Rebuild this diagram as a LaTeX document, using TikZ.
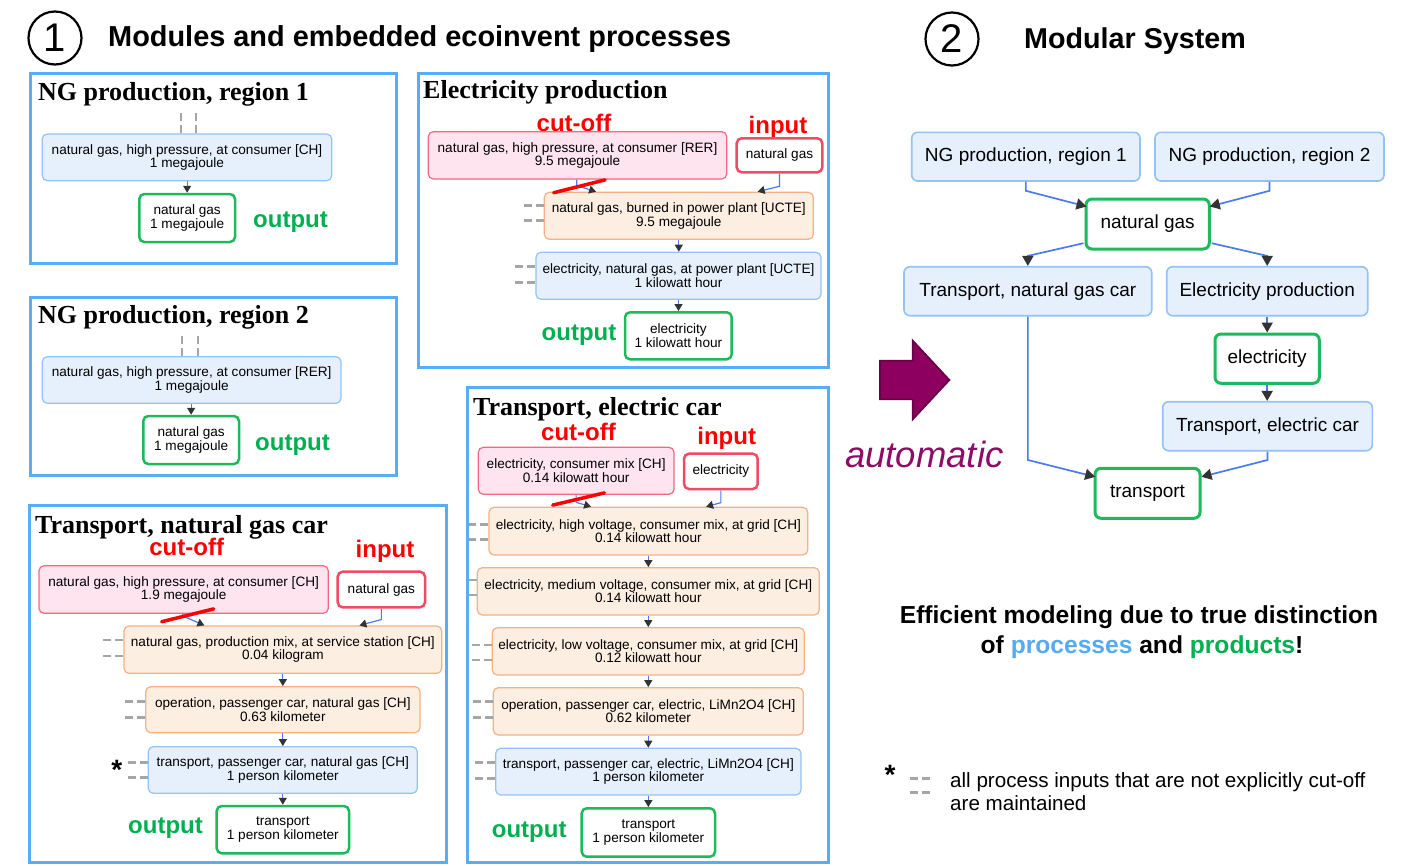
\documentclass[tikz,border=0pt]{standalone}
\usepackage{fontspec}
\setmainfont{Liberation Sans}
\newfontfamily\serifbold{Liberation Serif}
\usetikzlibrary{arrows.meta,calc}
\definecolor{modblue}{HTML}{58ADF6}
\definecolor{procfill}{HTML}{E6F0FC}
\definecolor{procdraw}{HTML}{92C3F2}
\definecolor{orfill}{HTML}{FDEEE2}
\definecolor{ordraw}{HTML}{F4B183}
\definecolor{pinkfill}{HTML}{FDE4EE}
\definecolor{pinkdraw}{HTML}{F2697F}
\definecolor{inred}{HTML}{EF4B64}
\definecolor{outgreen}{HTML}{1DB95A}
\definecolor{txtgreen}{HTML}{00B050}
\definecolor{connblue}{HTML}{4A7BF0}
\definecolor{tipdark}{HTML}{333333}
\definecolor{stubgray}{HTML}{A6A6A6}
\definecolor{purplefill}{HTML}{8E0060}
\definecolor{purpledraw}{HTML}{6A0046}
\definecolor{purpletxt}{HTML}{8E0B66}
\definecolor{procblue}{HTML}{55AAF2}
\newcommand{\pfont}{\fontsize{13.6}{13.4}\selectfont}
\newcommand{\mtitlefont}{\serifbold\bfseries\fontsize{26}{26}\selectfont}
\newcommand{\mybox}[7]{\node[#1, minimum width={(#5-#3)*1pt}, minimum height={(#6-#4)*1pt}] (#2) at ({(#3+#5)/2},{(#4+#6)/2}) {#7};}
\newcommand{\mystubs}[4]{\draw[stub] (#1.west |- 0,#2) -- ++(-#4,0); \draw[stub] (#1.west |- 0,#3) -- ++(-#4,0);}
\tikzset{
  frame/.style={draw=modblue, line width=3pt},
  pbase/.style={rounded corners=5pt, line width=1.2pt, align=center, font=\pfont, inner sep=0pt},
  pblue/.style={pbase, draw=procdraw, fill=procfill},
  porange/.style={pbase, draw=ordraw, fill=orfill},
  pcut/.style={pbase, draw=pinkdraw, fill=pinkfill},
  pin/.style={pbase, draw=inred, fill=white, line width=2.5pt},
  pout/.style={pbase, draw=outgreen, fill=white, line width=2.5pt},
  bigblue/.style={rounded corners=6pt, line width=1.6pt, draw=procdraw, fill=procfill, font=\fontsize{19}{19}\selectfont, inner sep=0pt},
  biggreen/.style={rounded corners=6pt, line width=3pt, draw=outgreen, fill=white, font=\fontsize{19}{19}\selectfont, inner sep=0pt},
  conn/.style={draw=connblue, line width=1.2pt, -{Triangle[length=7pt,width=8pt,color=tipdark]}},
  bigconn/.style={draw=connblue, line width=1.7pt, -{Triangle[length=10pt,width=11pt,color=tipdark]}},
  stub/.style={draw=stubgray, line width=2.8pt, dash pattern=on 8pt off 4pt},
  cutmark/.style={draw=red, line width=3.5pt, line cap=round},
  lblred/.style={text=red, font=\bfseries\fontsize{24}{24}\selectfont, inner sep=0pt, anchor=base},
  lblgreen/.style={text=txtgreen, font=\bfseries\fontsize{24}{24}\selectfont, inner sep=0pt, anchor=base},
  mtitle/.style={font=\mtitlefont, inner sep=0pt, anchor=base west},
  star/.style={font=\bfseries\fontsize{28}{28}\selectfont, inner sep=0pt, anchor=base},
}
\begin{document}
\begin{tikzpicture}[x=1pt,y=-1pt]
\useasboundingbox (0,0) rectangle (1408,865);
\fill[white] (0,0) rectangle (1408,865);

% ---------- headers ----------
\node[circle, draw, line width=2.2pt, minimum size=53pt, inner sep=0pt, font=\fontsize{40}{40}\selectfont] (c1) at (55,38) {1};
\node[font=\bfseries\fontsize{28.9}{28.9}\selectfont, inner sep=0pt, anchor=base west] (h1) at (108,46) {Modules and embedded ecoinvent processes};
\node[circle, draw, line width=2.2pt, minimum size=53pt, inner sep=0pt, font=\fontsize{40}{40}\selectfont] (c2) at (952,39) {2};
\node[font=\bfseries\fontsize{28.7}{28.7}\selectfont, inner sep=0pt, anchor=base west] (h2) at (1024,48) {Modular System};

% ---------- module: NG production, region 1 ----------
\draw[frame] (30,73) rectangle (396,263);
\node[mtitle] (t1) at (38,100) {NG production, region 1};
\mybox{pblue}{m1p}{42.3}{134}{331.7}{180.7}{natural gas, high pressure, at consumer [CH]\\1 megajoule}
\mybox{pout}{m1o}{139.3}{194}{235}{242}{natural gas\\1 megajoule}
\draw[conn] (m1p.south -| m1o.north) -- (m1o.north);
\draw[stub] (m1p.north -| 181,0) -- ++(0,-20);
\draw[stub] (m1p.north -| 196,0) -- ++(0,-20);
\node[lblgreen] (o1) at (290.5,227.3) {output};

% ---------- module: NG production, region 2 ----------
\draw[frame] (30,297) rectangle (396,475);
\node[mtitle] (t2) at (38,323) {NG production, region 2};
\mybox{pblue}{m2p}{42.3}{356.7}{341}{403.3}{natural gas, high pressure, at consumer [RER]\\1 megajoule}
\mybox{pout}{m2o}{143.3}{416}{239}{464}{natural gas\\1 megajoule}
\draw[conn] (m2p.south -| m2o.north) -- (m2o.north);
\draw[stub] (m2p.north -| 182,0) -- ++(0,-20);
\draw[stub] (m2p.north -| 198,0) -- ++(0,-20);
\node[lblgreen] (o2) at (292.5,450.7) {output};

% ---------- module: Electricity production ----------
\draw[frame] (418,73) rectangle (828,367);
\node[mtitle] (t3) at (423,98) {Electricity production};
\node[lblred] (cu3) at (574,131) {cut-off};
\node[lblred] (in3) at (778,133.3) {input};
\mybox{pcut}{ecut}{428.3}{131.7}{726.7}{179}{natural gas, high pressure, at consumer [RER]\\9.5 megajoule}
\mybox{pin}{ein}{736.7}{138.3}{822.3}{172.3}{natural gas}
\mybox{porange}{eburn}{544.3}{192.3}{813.3}{239.3}{natural gas, burned in power plant [UCTE]\\9.5 megajoule}
\mybox{pblue}{eel}{536}{252.3}{821}{299.3}{electricity, natural gas, at power plant [UCTE]\\1 kilowatt hour}
\mybox{pout}{eout}{625}{312.3}{731.7}{359.3}{electricity\\1 kilowatt hour}
\draw[conn] ($(ecut.south west)+(149,0)$) -- ++(0,6) -- ($(eburn.north west)+(52.4,0)$);
\draw[conn] (ein.south) -- ++(0,12.7) -- ($(eburn.north west)+(214,0)$);
\draw[cutmark] ($(eburn.north west)+(10,1)$) -- ($(ecut.south west)+(177.4,0.3)$);
\draw[conn] (eburn.south) -- (eburn.south |- eel.north);
\draw[conn] (eel.south) -- (eel.south |- eout.north);
\mystubs{eburn}{205.7}{220.7}{20}
\mystubs{eel}{266.7}{282.3}{20}
\node[lblgreen] (o3) at (579,340.7) {output};

% ---------- module: Transport, natural gas car ----------
\draw[frame] (29,505) rectangle (446,862);
\node[mtitle] (t4) at (35,533) {Transport, natural gas car};
\node[lblred] (cu4) at (186.7,555) {cut-off};
\node[lblred] (in4) at (385,557.3) {input};
\mybox{pcut}{tcut}{39}{565.7}{328.3}{613.3}{natural gas, high pressure, at consumer [CH]\\1.9 megajoule}
\mybox{pin}{tin}{337.7}{571.7}{425}{607.3}{natural gas}
\mybox{porange}{tserv}{124}{626}{441.7}{673.3}{natural gas, production mix, at service station [CH]\\0.04 kilogram}
\mybox{porange}{top}{145.7}{686.7}{420}{732.7}{operation, passenger car, natural gas [CH]\\0.63 kilometer}
\mybox{pblue}{ttr}{148.3}{746.7}{417.3}{793.3}{transport, passenger car, natural gas [CH]\\1 person kilometer}
\mybox{pout}{tout}{216.7}{806}{349}{853.3}{transport\\1 person kilometer}
\draw[conn] ($(tcut.south west)+(144.3,0)$) -- ++(0,2) -- ($(tserv.north west)+(81,0)$);
\draw[conn] (tin.south) -- ++(0,11) -- ($(tserv.north west)+(236,0)$);
\draw[cutmark] ($(tserv.north west)+(38.3,-3.7)$) -- ($(tcut.south west)+(175.3,-5)$);
\draw[conn] (tserv.south) -- (tserv.south |- top.north);
\draw[conn] (top.south) -- (top.south |- ttr.north);
\draw[conn] (ttr.south) -- (ttr.south |- tout.north);
\mystubs{tserv}{640}{656}{21}
\mystubs{top}{701.7}{717.3}{21}
\mystubs{ttr}{762.3}{777.3}{21}
\node[star] (s1) at (116.7,779) {*};
\node[lblgreen] (o4) at (165.5,833.3) {output};

% ---------- module: Transport, electric car ----------
\draw[frame] (467,387) rectangle (828,862);
\node[mtitle] (t5) at (473,415) {Transport, electric car};
\node[lblred] (cu5) at (578.5,440) {cut-off};
\node[lblred] (in5) at (726.7,444.3) {input};
\mybox{pcut}{ccut}{478.3}{447.3}{674}{494.3}{electricity, consumer mix [CH]\\0.14 kilowatt hour}
\mybox{pin}{cin}{684}{453.7}{757.7}{489}{electricity}
\mybox{porange}{chv}{489}{507.3}{807.7}{555}{electricity, high voltage, consumer mix, at grid [CH]\\0.14 kilowatt hour}
\mybox{porange}{cmv}{477.3}{567.7}{819.3}{615}{electricity, medium voltage, consumer mix, at grid [CH]\\0.14 kilowatt hour}
\mybox{porange}{clv}{492.3}{627.7}{804.3}{675}{electricity, low voltage, consumer mix, at grid [CH]\\0.12 kilowatt hour}
\mybox{porange}{cop}{493.3}{687.7}{803.3}{735}{operation, passenger car, electric, LiMn2O4 [CH]\\0.62 kilometer}
\mybox{pblue}{ctr}{495.7}{748.3}{801}{795}{transport, passenger car, electric, LiMn2O4 [CH]\\1 person kilometer}
\mybox{pout}{cout}{581.7}{808.3}{715}{856.7}{transport\\1 person kilometer}
\draw[conn] ($(ccut.south west)+(98.4,0)$) -- ++(0,7.4) -- ($(chv.north west)+(102.7,0)$);
\draw[conn] (cin.south) -- ++(0,12.4) -- ($(chv.north west)+(217.7,0)$);
\draw[cutmark] ($(chv.north west)+(64.3,-1.6)$) -- ($(ccut.south west)+(126.7,-2)$);
\draw[conn] (chv.south) -- (chv.south |- cmv.north);
\draw[conn] (cmv.south) -- (cmv.south |- clv.north);
\draw[conn] (clv.south) -- (clv.south |- cop.north);
\draw[conn] (cop.south) -- (cop.south |- ctr.north);
\draw[conn] (ctr.south) -- (ctr.south |- cout.north);
\mystubs{chv}{524.3}{539.3}{19}
\draw[stub] (cmv.west |- 0,580) -- ++(-8.5,0);
\draw[stub] (cmv.west |- 0,595) -- ++(-8.5,0);
\mystubs{clv}{645}{660}{20}
\mystubs{cop}{701.7}{717.3}{20}
\mystubs{ctr}{762.3}{778.3}{20}
\node[lblgreen] (o5) at (529.2,837.7) {output};

% ---------- automatic arrow ----------
\draw[fill=purplefill, draw=purpledraw, line width=1.8pt, line join=miter]
  (880,360.7) -- (912.7,360.7) -- (912.7,340.7) -- (949.3,380) -- (912.7,419.3) -- (912.7,399.3) -- (880,399.3) -- cycle;
\node[text=purpletxt, font=\itshape\fontsize{36.5}{36.5}\selectfont, inner sep=0pt, anchor=base west] (auto) at (845,467) {automatic};

% ---------- modular system ----------
\mybox{bigblue}{ng1}{911.7}{132.3}{1140}{181}{NG production, region 1}
\mybox{bigblue}{ng2}{1155}{132.3}{1384}{181}{NG production, region 2}
\mybox{biggreen}{ngas}{1086}{199}{1209.3}{249}{natural gas}
\mybox{bigblue}{tng}{904}{266.7}{1151.7}{315.7}{Transport, natural gas car}
\mybox{bigblue}{ep}{1166.7}{266.7}{1367.7}{315.7}{Electricity production}
\mybox{biggreen}{elec}{1215}{334}{1319.3}{383.3}{electricity}
\mybox{bigblue}{tec}{1162.7}{401.7}{1372.3}{450.7}{Transport, electric car}
\mybox{biggreen}{trans}{1095}{468.3}{1200}{518.3}{transport}
\draw[bigconn] (ng1.south) -- ++(0,9) -- ($(ngas.north west)+(2,9)$);
\draw[bigconn] (ng2.south) -- ++(0,9) -- ($(ngas.north east)+(-1,9)$);
\draw[bigconn] ($(ngas.south west)+(-1,-7.3)$) -- ($(tng.north)+(0,-10)$) -- (tng.north);
\draw[bigconn] ($(ngas.south east)+(1,-7.3)$) -- ($(ep.north)+(0,-10)$) -- (ep.north);
\draw[bigconn] (ep.south) -- (ep.south |- elec.north);
\draw[bigconn] (elec.south) -- (elec.south |- tec.north);
\draw[bigconn] (tng.south) -- (tng.south |- 0,460) -- ($(trans.north west)+(1.7,10)$);
\draw[bigconn] (tec.south) -- (tec.south |- 0,460) -- ($(trans.north east)+(0,10)$);

% ---------- conclusion ----------
\node[font=\bfseries\fontsize{24.6}{24.6}\selectfont, inner sep=0pt, anchor=base] (eff1) at (1139,623.3) {Efficient modeling due to true distinction};
\node[font=\bfseries\fontsize{24.6}{24.6}\selectfont, inner sep=0pt, anchor=base] (eff2) at (1142,653.3) {of \textcolor{procblue}{processes} and \textcolor{txtgreen}{products}!};

% ---------- footnote ----------
\node[star] (s2) at (890,784) {*};
\draw[stub] (930,778.3) -- (910,778.3);
\draw[stub] (930,792.7) -- (910,792.7);
\node[font=\fontsize{20.6}{20.6}\selectfont, inner sep=0pt, anchor=base west] (fn1) at (950,787) {all process inputs that are not explicitly cut-off};
\node[font=\fontsize{20.6}{20.6}\selectfont, inner sep=0pt, anchor=base west] (fn2) at (950,810) {are maintained};
\end{tikzpicture}
\end{document}
